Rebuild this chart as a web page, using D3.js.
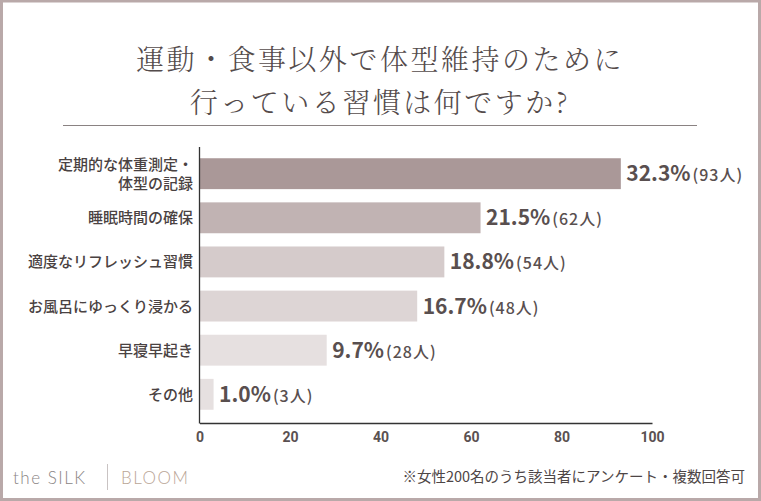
<!DOCTYPE html>
<html>
<head>
<meta charset="utf-8">
<script src="https://cdn.jsdelivr.net/npm/d3@7"></script>
<style>
  body { margin: 0; background: #fff; }
  svg { display: block; }
</style>
</head>
<body>
<script>
// data
var categories = [['定期的な体重測定・', '体型の記録'], ['睡眠時間の確保'], ['適度なリフレッシュ習慣'],
                  ['お風呂にゆっくり浸かる'], ['早寝早起き'], ['その他']];
var counts = [93, 62, 54, 48, 28, 3];
var percents = ['32.3%', '21.5%', '18.8%', '16.7%', '9.7%', '1.0%'];
var barColors = ['#aa9898', '#c1b3b3', '#d5cbcb', '#ddd5d5', '#e6e0e0', '#e6e0e0'];
var xTicks = [0, 20, 40, 60, 80, 100];
var titleLines = ['運動・食事以外で体型維持のために', '行っている習慣は何ですか?'];
var note = '※女性200名のうち該当者にアンケート・複数回答可';

var W = 761, H = 501;
var jp = '"Noto Sans CJK JP", "Noto Sans", sans-serif';
var svg = d3.select('body').append('svg').attr('width', W).attr('height', H);

// frame
svg.append('rect')
  .attr('x', 1.5).attr('y', 1).attr('width', W - 3).attr('height', H - 2.5)
  .attr('fill', 'none').attr('stroke', '#b9a9a9').attr('stroke-width', 3);

// title
svg.selectAll('text.title').data(titleLines).enter().append('text')
  .attr('class', 'title')
  .attr('x', 380).attr('y', function(d, i){ return 70 + i * 43; })
  .attr('text-anchor', 'middle')
  .style('font-family', '"Noto Serif CJK JP", ' + jp)
  .style('font-weight', 300)
  .style('font-size', '28px')
  .style('letter-spacing', '2.5px')
  .attr('fill', '#544b4b')
  .text(function(d){ return d; });

svg.append('line').attr('x1', 63).attr('x2', 697).attr('y1', 125.5).attr('y2', 125.5)
  .attr('stroke', '#8a8282').attr('stroke-width', 1.2);

// scales
var x = d3.scaleLinear().domain([0, 100]).range([199.5, 652]);
var y = d3.scaleBand().domain(d3.range(categories.length)).range([145, 423])
  .paddingInner(0.3).paddingOuter(0.3);

// bars
svg.selectAll('rect.bar').data(counts).enter().append('rect')
  .attr('class', 'bar')
  .attr('x', x(0) + 0.5)
  .attr('y', function(d, i){ return y(i); })
  .attr('width', function(d){ return x(d) - x(0); })
  .attr('height', y.bandwidth())
  .attr('fill', function(d, i){ return barColors[i]; });

// category labels (one text per line)
categories.forEach(function(d, i){
  var cy = y(i) + y.bandwidth() / 2;
  var start = cy + 5.5 - (d.length - 1) * 9.5;
  d.forEach(function(s, j){
    svg.append('text').attr('class', 'cat')
      .attr('x', 193).attr('y', start + j * 19)
      .attr('text-anchor', 'end')
      .style('font-family', jp).style('font-weight', 500).style('font-size', '15px')
      .attr('fill', '#4a4242')
      .text(s);
  });
});

// value labels
var val = svg.selectAll('text.val').data(counts).enter().append('text')
  .attr('class', 'val')
  .attr('x', function(d){ return x(d) + 6; })
  .attr('y', function(d, i){ return y(i) + y.bandwidth() / 2 + 7.5; })
  .attr('fill', '#594f4f')
  .style('font-family', jp).style('font-weight', 700);
val.append('tspan').style('font-size', '21px').text(function(d, i){ return percents[i]; });
val.append('tspan').attr('dx', 2).style('font-size', '16px').style('font-weight', 500)
  .style('letter-spacing', '1px')
  .text(function(d){ return '(' + d + '人)'; });

// axes
var xAxis = svg.append('g').attr('transform', 'translate(0,423)')
  .call(d3.axisBottom(x).tickValues(xTicks).tickSize(0).tickPadding(9));
xAxis.select('.domain').attr('stroke', '#333').attr('stroke-width', 1.3);
xAxis.selectAll('text')
  .style('font-family', 'Roboto, sans-serif').style('font-weight', 700).style('font-size', '14px')
  .attr('fill', '#5a5151');

svg.append('line').attr('x1', x(0)).attr('x2', x(0)).attr('y1', 147).attr('y2', 423.6)
  .attr('stroke', '#333').attr('stroke-width', 1.3);

// footer logo
var logo = svg.append('g').style('font-family', 'Lato, "Open Sans", sans-serif')
  .style('font-weight', 300).style('font-size', '17px').style('letter-spacing', '1.5px');
logo.append('text').attr('x', 13).attr('y', 484).attr('fill', '#8a8484').text('the SILK');
logo.append('line').attr('x1', 107.5).attr('x2', 107.5).attr('y1', 464).attr('y2', 490)
  .attr('stroke', '#c9c3c3').attr('stroke-width', 1);
logo.append('text').attr('x', 121).attr('y', 484).attr('fill', '#b9a596').text('BLOOM');

// note
svg.append('text').attr('x', 745).attr('y', 482).attr('text-anchor', 'end')
  .style('font-family', jp).style('font-size', '14.5px').style('font-weight', 400)
  .attr('fill', '#4e4646')
  .text(note);
</script>
</body>
</html>
